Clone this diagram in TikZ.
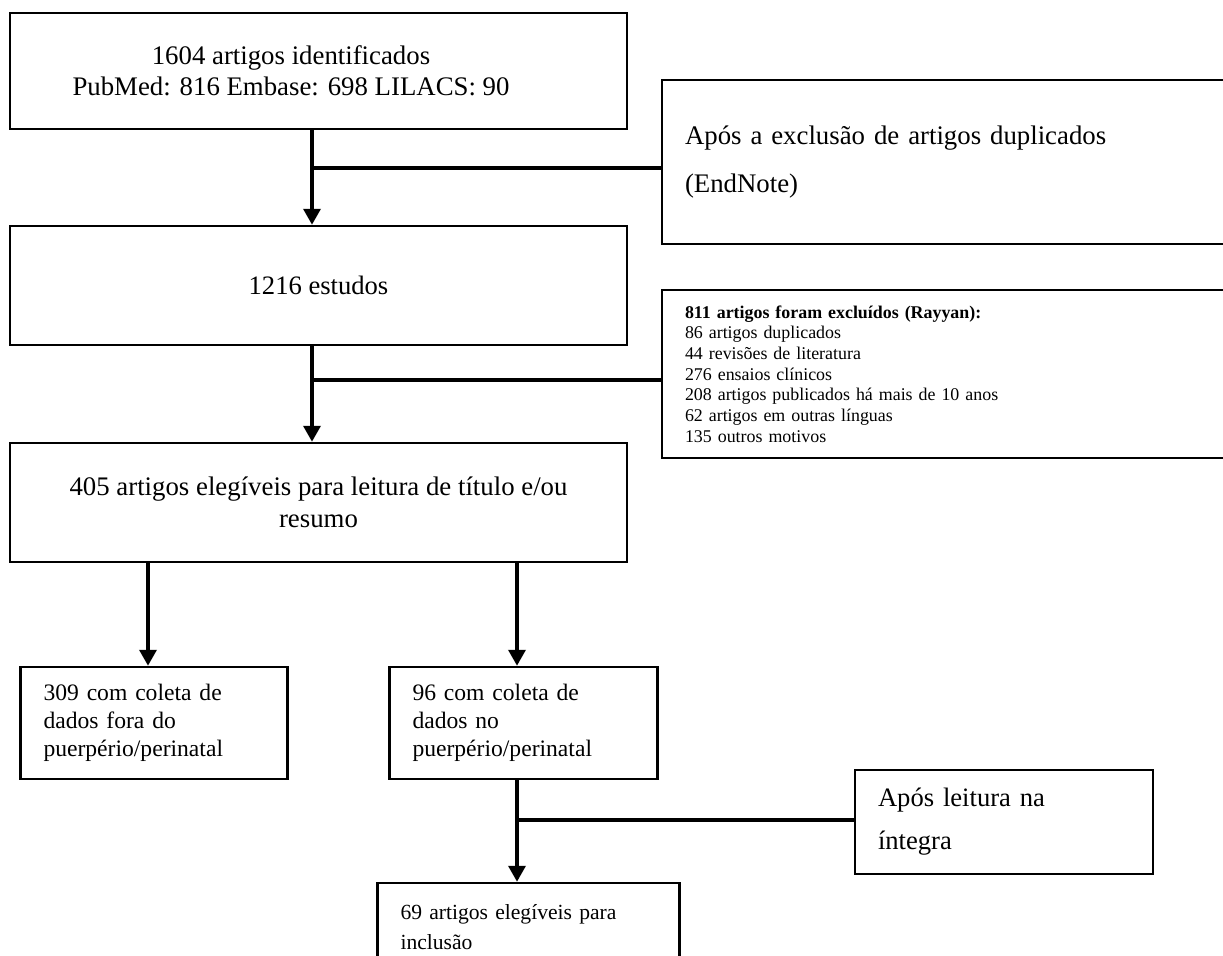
\documentclass[tikz,border=0pt]{standalone}
\usepackage{fontspec}
\setmainfont{Liberation Serif}
\usetikzlibrary{arrows.meta}

\tikzset{
  box/.style={draw, line width=1.25pt, inner sep=0pt},
  lbox/.style={box, align=left, inner xsep=11.5pt},
  link/.style={line width=1.75pt},
  flow/.style={link, -{Triangle[width=8.5pt,length=8pt]}},
}

\begin{document}
\begin{tikzpicture}[x=0.5pt, y=-0.5pt]
  \useasboundingbox (0,0) rectangle (1223,955);

  % main column
  \node [box, minimum width=308.5pt, minimum height=58pt] (ident) at (318.5,71) {};
  \node [align=center, font=\fontsize{13.4}{15.5}\selectfont] (identtxt) at (291,70.5) {1604 artigos identificados\\PubMed: 816 Embase: 698 LILACS: 90};
  \node [box, minimum width=308.5pt, minimum height=59.5pt, font=\fontsize{13.3}{15.5}\selectfont] (estudos) at (318.5,285.5) {1216 estudos};
  \node [box, align=center, minimum width=308.5pt, minimum height=59.5pt, font=\fontsize{13.4}{16}\selectfont] (eleg) at (318.5,502.5) {405 artigos elegíveis para leitura de título e/ou\\resumo};

  % exclusions on the right
  \node [lbox, text width=266pt, minimum height=82pt, font=\fontsize{13.4}{24}\selectfont] (endnote) at (951,162) {Após a exclusão de artigos duplicados\\(EndNote)};
  \node [lbox, text width=266pt, minimum height=84pt, font=\fontsize{8.95}{10.35}\selectfont] (rayyan) at (951,374) {\textbf{811 artigos foram excluídos (Rayyan):}\\86 artigos duplicados\\44 revisões de literatura\\276 ensaios clínicos\\208 artigos publicados há mais de 10 anos\\62 artigos em outras línguas\\135 outros motivos};

  % split by period of data collection
  \node [lbox, text width=110.5pt, minimum height=56pt, font=\fontsize{11.8}{14}\selectfont] (fora) at (154,723) {309 com coleta de\\dados fora do\\puerpério/perinatal};
  \node [lbox, text width=111pt, minimum height=56pt, font=\fontsize{11.8}{14}\selectfont] (puerp) at (523.5,723) {96 com coleta de\\dados no\\puerpério/perinatal};
  \node [lbox, text width=126pt, minimum height=52pt, font=\fontsize{13.3}{21.5}\selectfont] (integra) at (1004,822) {Após leitura na\\íntegra};
  \node [lbox, text width=128pt, minimum height=44pt, font=\fontsize{10.8}{15}\selectfont] (incl) at (528.5,927) {69 artigos elegíveis para\\inclusão};

  % connectors
  \coordinate (ja) at (312,168);
  \coordinate (jb) at (312,380);
  \coordinate (jc) at (518,820);
  \coordinate (xl) at (148,0);
  \coordinate (xr) at (517,0);

  \draw [flow] (ident.south -| ja) -- (estudos.north -| ja);
  \draw [link] (ja) -- (ja -| endnote.west);
  \draw [flow] (estudos.south -| jb) -- (eleg.north -| jb);
  \draw [link] (jb) -- (jb -| rayyan.west);
  \draw [flow] (eleg.south -| xl) -- (fora.north -| xl);
  \draw [flow] (eleg.south -| xr) -- (puerp.north -| xr);
  \draw [flow] (puerp.south -| xr) -- (incl.north -| xr);
  \draw [link] (jc) -- (jc -| integra.west);
\end{tikzpicture}
\end{document}
